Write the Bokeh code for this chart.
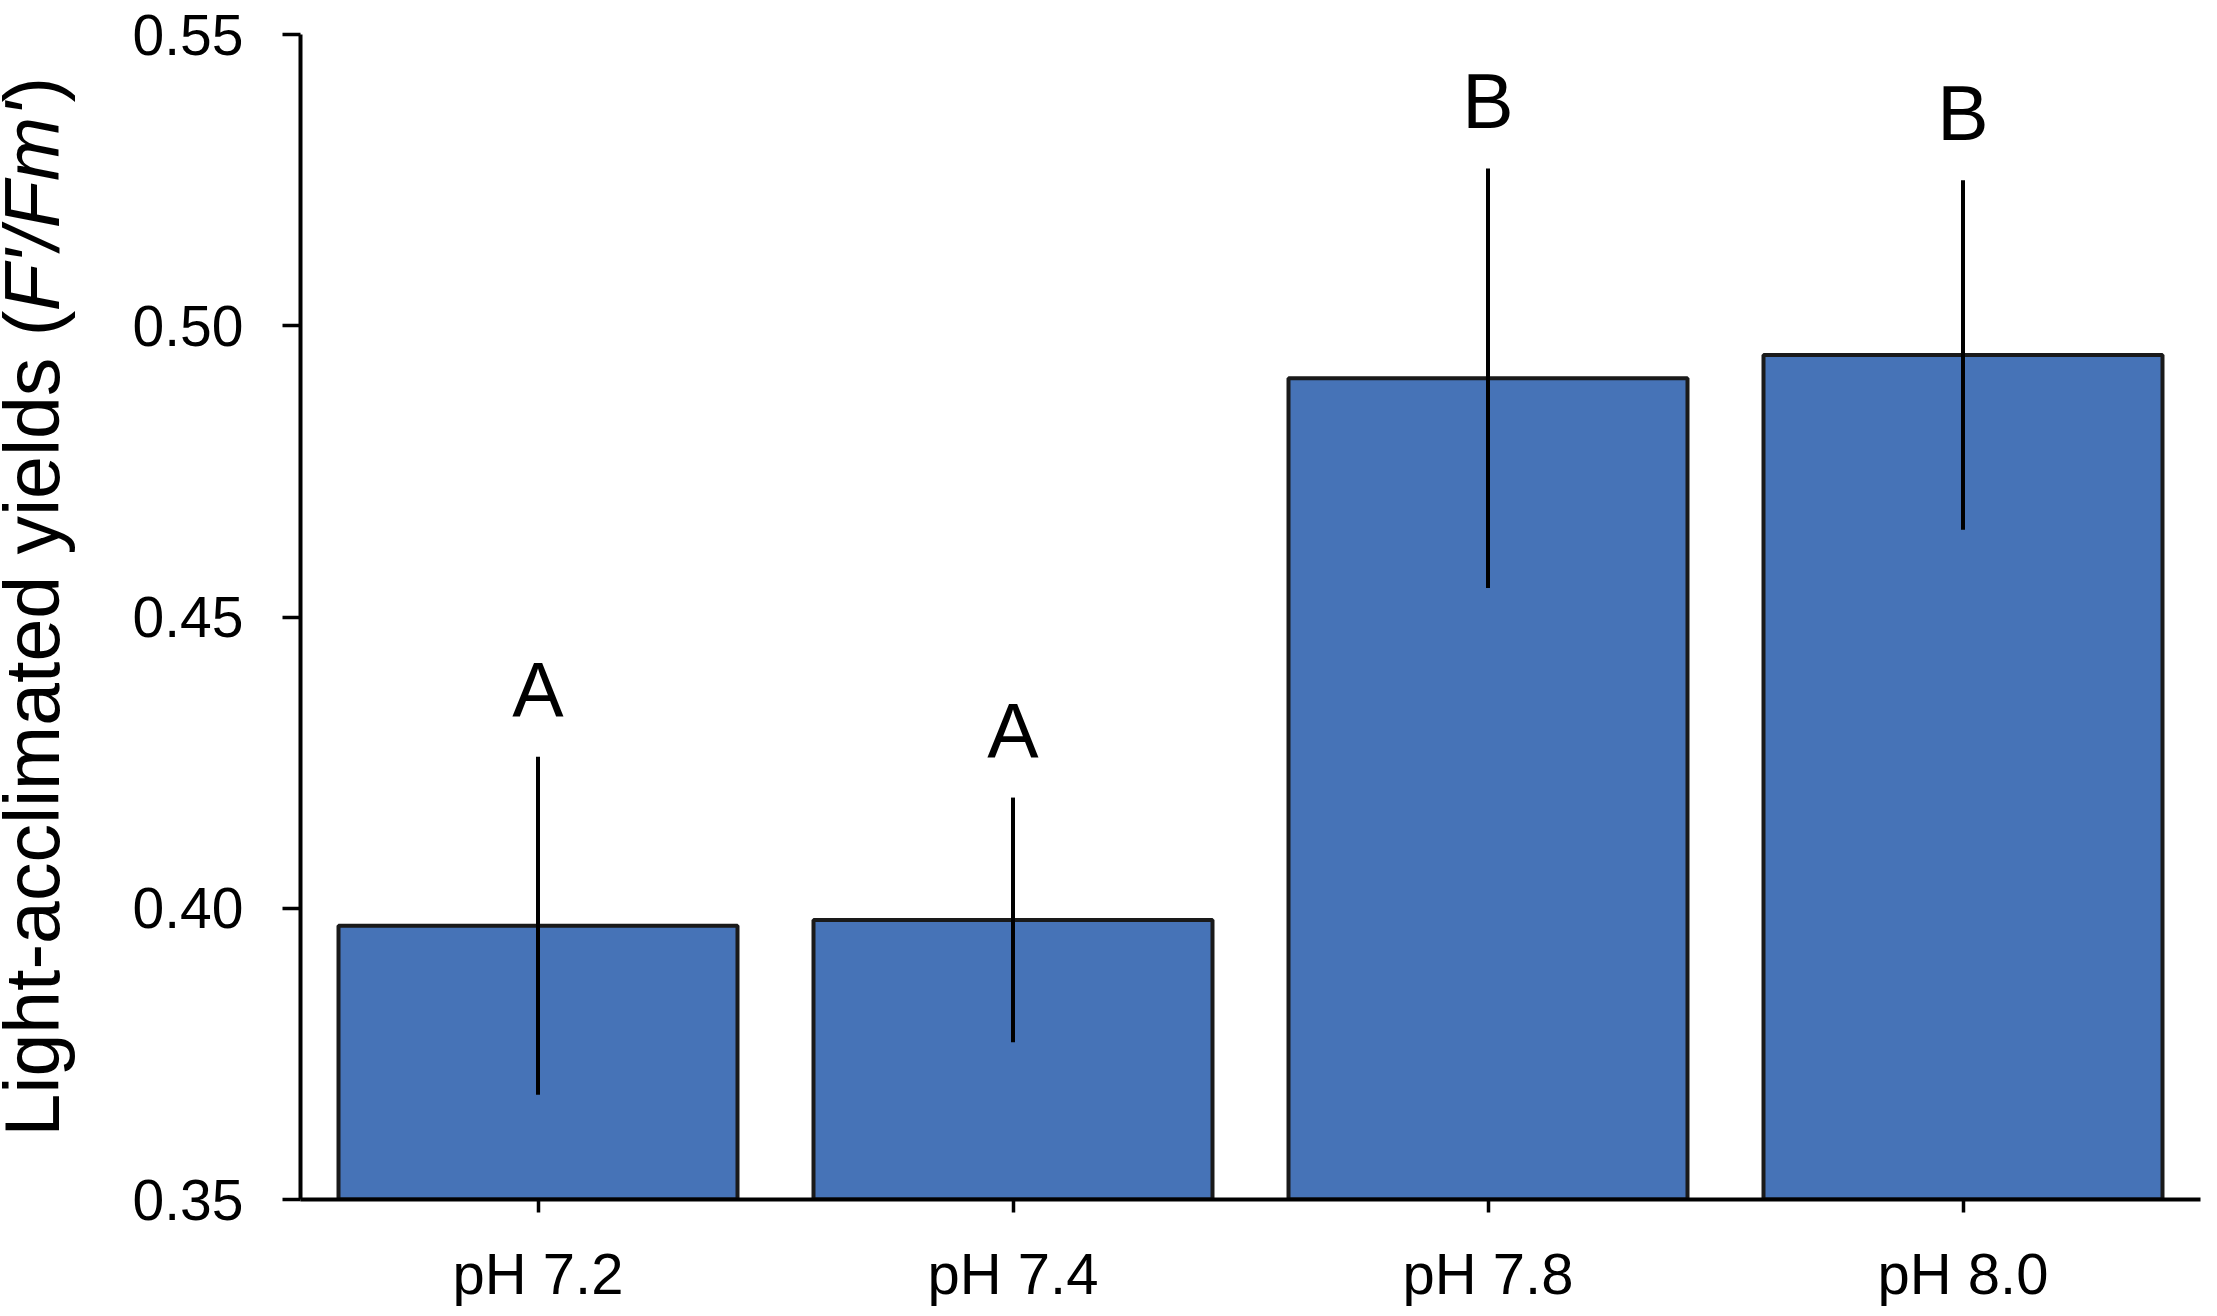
from math import pi
from bokeh.plotting import figure
from bokeh.layouts import row
from bokeh.models import FactorRange, Range1d, FixedTicker, NumeralTickFormatter
from bokeh.core.properties import value
from bokeh.embed import file_html
from bokeh.resources import INLINE

categories = ["pH 7.2", "pH 7.4", "pH 7.8", "pH 8.0"]
means = [0.397, 0.398, 0.491, 0.495]
errors = [0.029, 0.021, 0.036, 0.030]
letters = ["A", "A", "B", "B"]
y_ticks = [0.35, 0.40, 0.45, 0.50, 0.55]
y_min, y_max = 0.35, 0.55
y_title_parts = ["Light-acclimated yields (", "F'/Fm'", ")"]

lower = [m - e for m, e in zip(means, errors)]
upper = [m + e for m, e in zip(means, errors)]

FONT = "Liberation Sans"
H = 1308
LW = 100          # width of the strip holding the y-axis title
TOP, BOTTOM = 34, 108
frame_top_px, frame_bottom_px = TOP, H - BOTTOM

# ---- y-axis title strip: ranges in page pixels (y measured from top) ----
t = figure(width=LW, height=H, x_range=Range1d(0, LW),
           y_range=Range1d(frame_bottom_px, frame_top_px),
           x_axis_type=None, y_axis_type=None, min_border=0,
           min_border_top=TOP, min_border_bottom=BOTTOM,
           output_backend="svg", toolbar_location=None)
t.outline_line_color = None
t.xgrid.grid_line_color = None
t.ygrid.grid_line_color = None
base_x = 31
starts = [1137, 311, 102]
styles = ["normal", "italic", "normal"]
for txt, y0, st in zip(y_title_parts, starts, styles):
    t.text(x=[base_x], y=[y0], text=[txt], angle=pi / 2,
           text_align="left", text_baseline="alphabetic",
           text_font=value(FONT), text_font_size="77px",
           text_font_style=st, text_color="black")

# ---- main chart ----
p = figure(
    x_range=FactorRange(factors=categories, range_padding=0),
    y_range=Range1d(y_min, y_max),
    width=2101, height=H,
    output_backend="svg", toolbar_location=None,
    min_border_left=300 - LW, min_border_right=1,
    min_border_top=TOP, min_border_bottom=BOTTOM,
)
p.outline_line_color = None
p.xgrid.grid_line_color = None
p.ygrid.grid_line_color = None

p.vbar(x=categories, top=means, bottom=y_min, width=0.84,
       fill_color="#4673B7", line_color="#1a1a1a", line_width=4)
p.segment(x0=categories, y0=lower, x1=categories, y1=upper,
          line_color="black", line_width=4)
p.text(x=categories, y=upper, text=letters, text_align="center",
       text_baseline="alphabetic", y_offset=-67,
       text_font=value(FONT), text_font_size="77px", text_color="black")

xa = p.xaxis[0]
xa.axis_line_width = 4
xa.axis_line_color = "black"
xa.major_tick_line_width = 3.5
xa.major_tick_line_color = "black"
xa.major_tick_out = 13
xa.major_tick_in = 0
xa.minor_tick_line_color = None
xa.major_label_standoff = 28
xa.major_label_text_font = FONT
xa.major_label_text_font_size = "58px"
xa.major_label_text_color = "black"

ya = p.yaxis[0]
ya.ticker = FixedTicker(ticks=y_ticks)
ya.formatter = NumeralTickFormatter(format="0.00")
ya.axis_line_width = 4
ya.axis_line_color = "black"
ya.major_tick_line_width = 3.5
ya.major_tick_line_color = "black"
ya.major_tick_out = 18
ya.major_tick_in = 0
ya.minor_tick_line_color = None
ya.major_label_standoff = 39
ya.major_label_text_font = FONT
ya.major_label_text_font_size = "57px"
ya.major_label_text_color = "black"

layout = row(t, p, spacing=0)
open("out.html", "w").write(file_html(layout, INLINE))
